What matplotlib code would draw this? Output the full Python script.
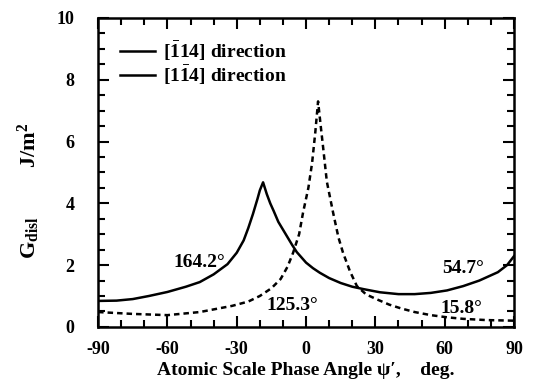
import matplotlib.pyplot as plt
from matplotlib.ticker import MultipleLocator

# curva solida: direccion [-1 1 4]
psi_a = [-90, -82, -75, -68, -60, -52, -46, -40, -34, -30, -27, -25, -23, -21, -20, -18.6,
         -17, -15.5, -14, -12, -10, -8, -6, -4, -2, 0, 3, 6, 10, 15, 20, 25, 32, 40, 47, 54,
         61, 68, 75, 83, 87, 90]
g_a = [0.84, 0.85, 0.9, 1.0, 1.13, 1.3, 1.45, 1.7, 2.03, 2.4, 2.8, 3.2, 3.65, 4.15, 4.42, 4.68,
       4.3, 4.0, 3.75, 3.4, 3.15, 2.9, 2.65, 2.42, 2.25, 2.08, 1.9, 1.75, 1.58, 1.42, 1.3, 1.22,
       1.12, 1.06, 1.06, 1.1, 1.18, 1.32, 1.5, 1.77, 2.0, 2.29]

# curva discontinua: direccion [1 -1 4]
psi_b = [-90, -75, -60, -46, -32, -25, -20, -15, -11, -8, -5.6, -3, -1.3, 1, 2.6, 4, 5.2,
         6.5, 7.4, 9, 11.7, 14, 16, 19, 22, 26, 31, 36, 41, 47, 54, 61, 68, 78, 90]
g_b = [0.48, 0.42, 0.38, 0.48, 0.68, 0.82, 1.0, 1.25, 1.55, 1.95, 2.4, 3.0, 3.7, 4.5, 5.3, 6.3, 7.3,
       6.4, 5.8, 4.7, 3.7, 2.9, 2.4, 1.8, 1.32, 1.05, 0.88, 0.72, 0.6, 0.48, 0.38, 0.31, 0.26, 0.22, 0.2]

labels = ["164.2°", "125.3°", "54.7°", "15.8°"]
label_x = [-46, -6, 68, 67]
label_y = [2.1, 0.68, 1.9, 0.6]

plt.rcParams['font.family'] = ['Liberation Serif', 'DejaVu Serif']
plt.rcParams['font.weight'] = 'bold'
plt.rcParams['axes.labelweight'] = 'bold'
plt.rcParams['axes.unicode_minus'] = False
plt.rcParams['mathtext.fontset'] = 'custom'
plt.rcParams['mathtext.rm'] = 'Liberation Serif:bold'
plt.rcParams['mathtext.it'] = 'Liberation Serif:bold'

fig = plt.figure(figsize=(5.36, 3.91), dpi=100)
ax = fig.add_axes([0.183, 0.164, 0.776, 0.790])

ax.plot(psi_a, g_a, color="black", lw=1.8, label=r"[$\bar{1}$14] direction")
ax.plot(psi_b, g_b, color="black", lw=1.8, ls=(0, (2.2, 1.6)), label=r"[1$\bar{1}$4] direction")

for t, x, y in zip(labels, label_x, label_y):
    ax.text(x, y, t, fontsize=14, ha="center", va="center")

ax.set_xlim(-90, 90)
ax.set_ylim(0, 10)
ax.xaxis.set_major_locator(MultipleLocator(30))
ax.xaxis.set_minor_locator(MultipleLocator(10))
ax.yaxis.set_major_locator(MultipleLocator(2))
ax.yaxis.set_minor_locator(MultipleLocator(0.5))
ax.tick_params(which="both", direction="in", top=True, right=True, width=1.5, labelsize=13)
ax.tick_params(which="major", length=8)
ax.tick_params(which="minor", length=5)
ax.tick_params(axis="x", which="major", pad=10)
ax.tick_params(axis="y", which="major", pad=17)
for s in ax.spines.values():
    s.set_linewidth(1.8)

ax.set_xlabel("Atomic Scale Phase Angle ψ′,    deg.", fontsize=14, labelpad=3)
ax.set_ylabel(r"G$_{\rm disl}$         J/m$^2$", fontsize=16)
ax.yaxis.set_label_coords(-0.135, 0.44)

leg = ax.legend(loc="upper left", bbox_to_anchor=(0.02, 0.975), frameon=False, fontsize=14,
                handlelength=1.8, handletextpad=0.4, labelspacing=0.05, borderaxespad=0.3)
for h in leg.get_lines():
    h.set_linestyle("-")

fig.savefig("out.png", dpi=100)
